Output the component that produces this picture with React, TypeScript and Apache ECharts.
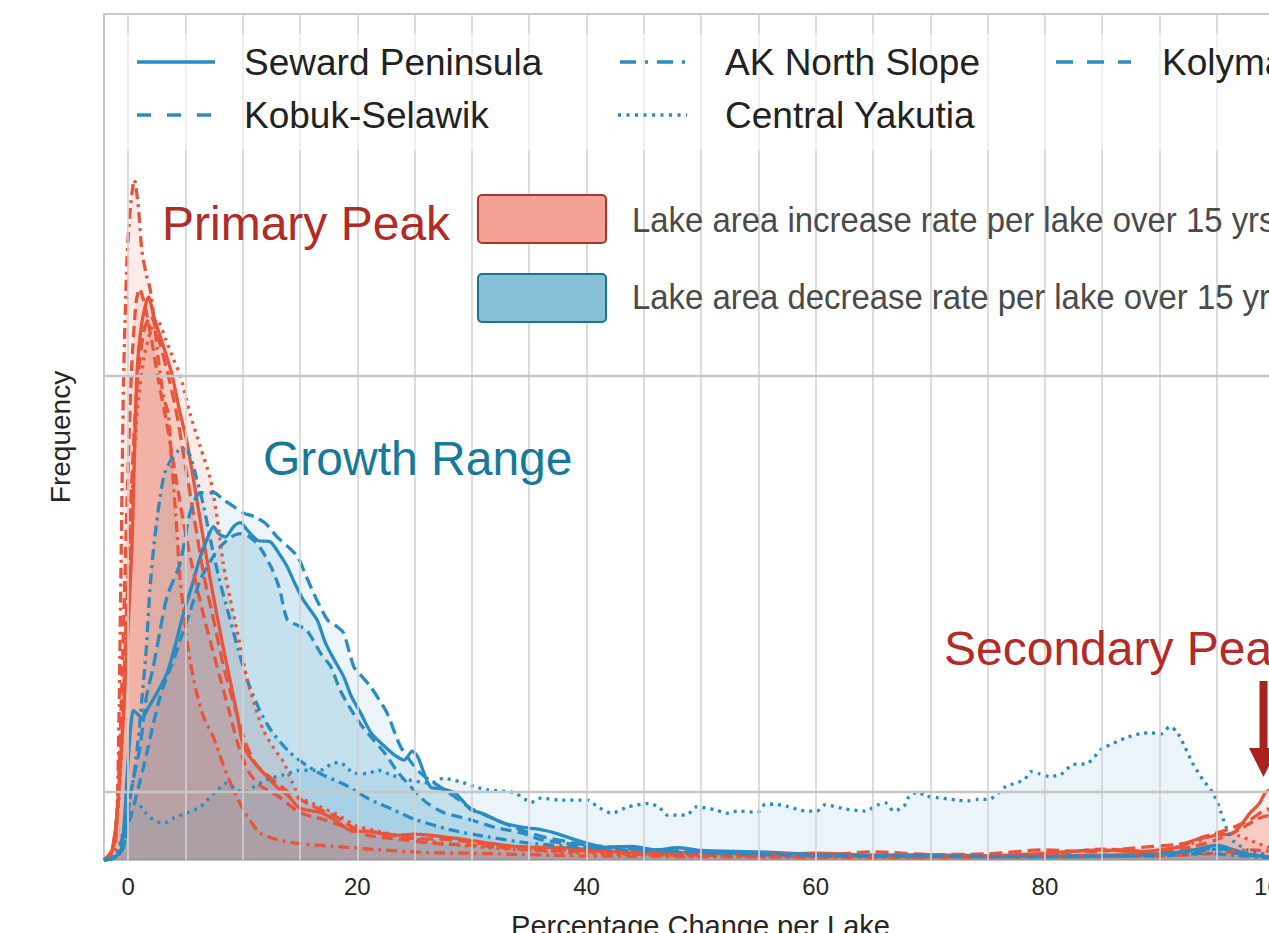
import React, { useEffect, useRef } from "react";
import * as echarts from "echarts";

const FONT = '"Liberation Sans", Arial, Helvetica, sans-serif';

// ---------- axes ----------
const xMin = -2.1;
const xMax = 102;
const yMax = 124.4;
const xGridValues = [0, 5, 10, 15, 20, 25, 30, 35, 40, 45, 50, 55, 60, 65, 70, 75, 80, 85, 90, 95, 100];
const yGridValues = [10, 71.2];
const xTickLabels = [0, 20, 40, 60, 80, 100];

const regionNames = ["Seward Peninsula", "Kobuk-Selawik", "AK North Slope", "Central Yakutia", "Kolyma"];

// ---------- lake area increase (red) densities: [percent change, frequency x1e-3] ----------
const sewardIncrease = [
  [-2.1, 0], [-1.5, 0.8], [-1.1, 4.4], [-0.85, 9.3], [-0.4, 21.6], [-0.1, 31], [0.34, 46], [0.5, 56], [0.78, 71.6],
  [1.2, 79], [1.79, 82.8], [2.3, 79.5], [3, 76], [3.8, 71.6], [4.5, 66], [5.1, 61.8], [6, 53], [7.2, 41],
  [8.3, 31.3], [9.5, 21.6], [10.1, 16.6], [11.3, 13.7], [12, 12.5], [13, 10.7], [14, 9.4], [15, 7.6], [16.8, 7],
  [18, 5.9], [19.7, 4.2], [21, 4.2], [23, 3.6], [25, 3.8], [28.5, 3.2], [31, 2.6], [34.3, 1.9], [38, 1.8], [42, 1.3],
  [46, 1], [50, 1.2], [55, 0.8], [60, 1], [65, 0.7], [70, 0.8], [75, 0.6], [80, 1.0], [85, 1.5], [88, 1.2], [92, 2],
  [93, 2.9], [95.2, 3.7], [96.4, 3.9], [97.9, 6.9], [98.7, 8.3], [99.2, 9.8], [99.6, 10.3], [100.4, 7], [101.2, 4], [102, 2]
];
const kobukIncrease = [
  [-2.1, 0], [-1.3, 1.5], [-0.9, 9], [-0.5, 28], [-0.1, 52], [0.3, 72], [0.7, 82], [1.0, 84], [1.4, 82], [2, 77],
  [2.6, 71], [3.4, 64], [4, 58], [4.8, 50], [5.5, 44], [6.3, 38], [7.2, 32], [8, 27], [8.8, 22], [9.6, 17],
  [10.5, 13], [11.5, 11], [13, 9.5], [15, 7], [17, 6], [19, 4.8], [21, 3.6], [24, 3], [27, 2.4], [30, 2.2],
  [35, 1.5], [40, 1.2], [45, 0.8], [50, 0.7], [60, 0.6], [70, 0.5], [80, 0.8], [85, 1.6], [90, 1.2], [93, 2],
  [95, 3], [97, 4.5], [98.5, 6], [99.4, 6.5], [100.4, 4.5], [101.4, 2], [102, 1]
];
const akIncrease = [
  [-2.1, 0], [-1.3, 0.5], [-1.0, 5], [-0.8, 20], [-0.6, 45], [-0.4, 70], [-0.1, 88], [0.2, 96], [0.55, 100],
  [0.9, 96], [1.2, 89.7], [1.6, 86], [1.92, 84], [2.3, 79], [2.65, 73.5], [3.1, 68], [3.5, 65.7], [3.8, 58.8],
  [4.2, 50], [4.55, 41.2], [5.3, 30.4], [6, 24.5], [6.6, 21], [7.46, 18], [8.3, 14], [9.2, 10.3], [10.2, 7],
  [11.5, 4], [13, 3], [15, 2.4], [18, 2], [22, 1.5], [26, 1.1], [30, 1], [40, 0.6], [50, 0.5], [60, 0.4],
  [70, 0.4], [80, 0.5], [90, 0.6], [95, 1], [98, 1.5], [100, 1.2], [102, 0.5]
];
const yakutiaIncrease = [
  [-2.1, 0], [-1.5, 1], [-1, 5], [-0.6, 15], [-0.2, 32], [0.3, 52], [0.8, 66], [1.4, 74], [2, 78], [2.5, 79.5],
  [3.3, 76.5], [4, 73.5], [4.55, 71.3], [5.4, 65.7], [6.3, 60.8], [7.2, 55.9], [7.8, 50], [8.3, 43.7], [8.9, 38.5],
  [9.5, 33.8], [10.4, 26.5], [11.1, 22.5], [11.8, 19.1], [12.7, 16.5], [13.6, 14.3], [14.3, 11.5], [15, 9.3],
  [16.5, 8], [18, 6.9], [20, 5], [23, 3.8], [26, 2.8], [30, 2], [35, 1.4], [40, 1], [50, 0.6], [60, 0.5],
  [70, 0.5], [80, 0.6], [88, 0.8], [93, 2.5], [95.5, 4], [97, 3.5], [98.5, 2.5], [100, 1.6], [102, 0.8]
];
const kolymaIncrease = [
  [-2.1, 0], [-1.4, 1.5], [-0.9, 8], [-0.5, 20], [-0.1, 38], [0.3, 55], [0.8, 70], [1.4, 78], [2, 80], [2.6, 77],
  [3.4, 72], [4.2, 66], [5, 58], [5.8, 50], [6.6, 42], [7.5, 35], [8.4, 28], [9.4, 22], [10.3, 17], [11.2, 14],
  [12.5, 12], [14, 10], [16, 8], [18, 6.5], [20, 4.5], [22, 4], [25, 3.2], [28, 3], [32, 2.2], [36, 1.8],
  [40, 1.3], [45, 1.1], [50, 0.9], [55, 1.0], [60, 0.7], [65, 1.2], [70, 0.8], [75, 0.9], [80, 1.5], [84, 1.2],
  [88, 1.8], [92, 2.4], [94, 3.5], [96, 4.5], [98, 6], [99.4, 7.5], [100.4, 5], [101.4, 2.5], [102, 1.5]
];

// ---------- lake area decrease (blue) densities ----------
const sewardDecrease = [
  [-2.1, 0], [-1.2, 0.5], [-0.7, 1], [-0.4, 4], [-0.1, 12], [0.2, 19], [0.47, 22], [0.8, 21.5], [1.2, 20.9],
  [1.8, 22.5], [2.5, 24.5], [3.4, 27.5], [4.1, 31.5], [4.84, 36.3], [5.6, 40.5], [6.3, 44.6], [6.9, 47.2],
  [7.45, 49], [7.9, 48], [8.5, 47.5], [9.2, 49], [9.8, 49.6], [10.4, 48.5], [11.3, 47], [12.4, 46.8], [13.2, 45],
  [13.9, 43.1], [14.6, 40.5], [15.3, 38.2], [16.5, 35.3], [17.2, 32], [18, 29.4], [18.8, 27], [19.5, 24],
  [20.3, 21.6], [21.2, 18.7], [22.2, 17], [23.2, 15.5], [24.1, 14.7], [24.8, 16], [25.3, 15.1], [26.4, 10.7],
  [27.3, 10.5], [28.5, 9.9], [29.3, 8.5], [29.9, 7.4], [31, 6.8], [32.8, 5.4], [34.5, 4.8], [35.5, 4.6],
  [37.2, 4], [39, 3], [41.6, 1.9], [44, 2], [46, 1.5], [48, 1.8], [50, 1.4], [55, 1.2], [60, 0.8], [65, 0.6],
  [70, 0.6], [75, 0.5], [80, 0.6], [85, 0.7], [90, 0.9], [93, 1.5], [95, 2.2], [96.5, 1.5], [98, 0.8],
  [100, 0.4], [102, 0.2]
];
const kobukDecrease = [
  [-2.1, 0], [-1, 0.5], [-0.4, 2], [0, 5], [0.5, 8], [1.1, 12], [1.6, 15.5], [2.2, 20], [2.8, 24], [3.4, 27],
  [4, 29.5], [4.55, 32.4], [5.4, 36.5], [6.3, 41.2], [7.2, 44], [8, 46], [9, 47.5], [9.8, 48], [10.6, 47.5],
  [11.5, 46], [12.5, 43], [13.2, 40], [13.9, 35.3], [14.8, 34.5], [15.6, 33.8], [16.8, 30.4], [17.7, 28.4],
  [18.5, 25], [19.5, 22], [20.5, 19.5], [21.5, 17.5], [22.5, 15.5], [23.5, 13], [24.7, 10.7], [26, 8.5],
  [27.5, 7], [29.9, 5.9], [32, 4.8], [34.3, 4], [36, 3], [38, 2.5], [40, 2], [43, 1.5], [46, 1.2], [50, 1],
  [55, 0.8], [60, 0.6], [70, 0.5], [80, 0.5], [88, 0.6], [93, 1.2], [95, 1.6], [97, 0.9], [100, 0.3], [102, 0.1]
];
const akDecrease = [
  [-2.1, 0], [-1.2, 0.3], [-0.7, 1.9], [-0.1, 6.9], [0.45, 11.8], [0.9, 18], [1.3, 25.4], [1.6, 31.3],
  [1.9, 39.7], [2.3, 47], [2.8, 53.4], [3.2, 56.9], [3.8, 59], [4.4, 60.2], [4.84, 60.5], [5.4, 59.5], [6, 56],
  [6.6, 52], [7.2, 47], [8, 41], [8.8, 36], [9.6, 31], [10.5, 26], [11.5, 22], [12.5, 19], [14, 16],
  [15.5, 14], [17, 12.5], [19, 11], [21, 9], [23, 7.5], [25, 6], [28, 4.5], [31, 3.5], [35, 2.5], [40, 1.8],
  [45, 1.3], [50, 1], [60, 0.6], [70, 0.5], [80, 0.5], [90, 0.6], [94, 1], [97, 0.6], [100, 0.3], [102, 0.1]
];
const yakutiaDecrease = [
  [-2.1, 0], [-1.2, 0.5], [-0.6, 3], [-0.2, 6.5], [0, 8.4], [0.76, 8.4], [1.5, 7], [2.3, 5.8], [3.1, 5.4],
  [4, 6.2], [5.1, 6.9], [6.3, 7.8], [7.5, 9.8], [8.6, 11.3], [9.3, 10.5], [10.1, 9.9], [11, 10.8], [12.1, 11.8],
  [13.5, 12.5], [15, 13.2], [16.8, 13.2], [18, 14.3], [18.5, 14.3], [19.7, 12.8], [20.8, 12.7], [21.8, 13.2],
  [23, 12.5], [24.4, 11.8], [26.4, 11.3], [27.5, 12], [29, 11.5], [30.2, 10.8], [31.4, 10.3], [33.7, 9.9],
  [35.2, 8.5], [36, 9.1], [37.8, 8.8], [40.1, 8.8], [41, 7.8], [42.2, 6.9], [43.6, 7.8], [45.4, 8.3], [46.3, 7.8],
  [47.1, 6.6], [48.7, 6.6], [49.6, 7.8], [51.2, 7.4], [52.2, 6.9], [53.3, 7.2], [54.9, 7.0], [55.6, 8.2],
  [56.4, 8.2], [57.5, 7.9], [59.1, 7.2], [60.1, 7.2], [60.8, 8.1], [62.6, 7.5], [64.3, 7.2], [65.4, 8.1],
  [66.1, 8.4], [66.8, 7.2], [67.7, 7.9], [68.1, 9.2], [68.9, 10.0], [69.6, 9.4], [70.5, 9.2], [72.4, 8.8],
  [73.2, 8.7], [74.2, 8.9], [75.1, 8.9], [75.9, 9.8], [76.6, 10.8], [78.2, 11.8], [78.8, 13.0], [79.5, 12.7],
  [80.4, 12.3], [81.4, 12.6], [82.4, 14.0], [83.7, 14.2], [85.0, 16.4], [85.9, 17.1], [87.1, 18.0], [88.4, 18.6],
  [89.3, 18.7], [90.1, 18.5], [90.9, 19.6], [91.5, 18.9], [92.2, 16.7], [92.9, 14.2], [93.8, 11.8], [94.7, 9.8],
  [95.2, 7.8], [95.8, 4.9], [96.4, 2.9], [97.6, 1.5], [98.8, 1.0], [100, 0.6], [102, 0.3]
];
const kolymaDecrease = [
  [-2.1, 0], [-1.2, 0.3], [-0.4, 1.9], [0.17, 9.3], [0.6, 13], [1.05, 16.6], [1.6, 24], [2.2, 28.4],
  [2.8, 33.8], [3.4, 38.7], [4.55, 43.7], [5.4, 51], [6.3, 54], [7.5, 54], [8.3, 53], [9.2, 52], [10.1, 51],
  [11, 50.5], [12, 49.5], [13, 47.5], [14, 46], [14.8, 44.6], [15.6, 41.5], [16.4, 38.5], [17.4, 35.3],
  [18.1, 34.5], [18.8, 33.4], [19.7, 28.4], [20.4, 27], [21.2, 25.4], [22.6, 21.6], [23.8, 16.6], [25.5, 12.8],
  [27, 11], [28.5, 9.3], [30, 7.5], [32, 6], [34, 4.6], [36, 3.5], [38, 2.8], [40, 2.2], [43, 1.8], [46, 1.5],
  [50, 1.1], [55, 0.9], [60, 0.7], [70, 0.6], [80, 0.5], [88, 0.7], [93, 1.4], [95, 1.8], [97, 1], [100, 0.4],
  [102, 0.2]
];

const increaseSets = [sewardIncrease, kobukIncrease, akIncrease, yakutiaIncrease, kolymaIncrease];
const decreaseSets = [sewardDecrease, kobukDecrease, akDecrease, yakutiaDecrease, kolymaDecrease];

const RED = "#e8553b";
const BLUE = "#2b8cc2";
const RED_FILL = "rgba(232,85,59,0.16)";
const BLUE_FILL = "rgba(43,140,194,0.14)";
const plotDashes: any[] = ["solid", [11, 6], [11, 5, 3, 5], [3, 5], [13, 6]];
const legendDashes: any[] = [null, [14, 16], [16, 9, 3, 9], [3, 5.5], [17, 14]];

function buildOption() {
  const series: any[] = [];
  series.push({
    type: "line",
    name: "grid",
    data: [[xMin, 0]],
    symbol: "none",
    silent: true,
    z: 1,
    lineStyle: { opacity: 0 },
    markLine: {
      silent: true,
      symbol: ["none", "none"],
      label: { show: false },
      emphasis: { disabled: true },
      data: [
        ...xGridValues.map((v) => ({ xAxis: v, lineStyle: { color: "#d3d3d3", width: 1.6, type: "solid" } })),
        ...yGridValues.map((v) => ({ yAxis: v, lineStyle: { color: "#c6c6c6", width: 2.4, type: "solid" } })),
      ],
    },
  });
  const fillSeries = (data: number[][], name: string, color: string) => ({
    type: "line",
    name,
    data,
    symbol: "none",
    smooth: 0.25,
    silent: true,
    z: 2,
    lineStyle: { width: 0, opacity: 0 },
    areaStyle: { color },
    emphasis: { disabled: true },
  });
  const lineSeries = (data: number[][], name: string, color: string, dash: any) => ({
    type: "line",
    name,
    data,
    symbol: "none",
    smooth: 0.25,
    silent: true,
    z: 3,
    lineStyle: { width: 3.3, color, type: dash, cap: "butt" },
    emphasis: { disabled: true },
  });
  // fills (all below the lines), interleaved per region: increase then decrease
  regionNames.forEach((n, i) => {
    series.push(fillSeries(increaseSets[i], n + " increase", RED_FILL));
    series.push(fillSeries(decreaseSets[i], n + " decrease", BLUE_FILL));
  });
  regionNames.forEach((n, i) => {
    series.push(lineSeries(increaseSets[i], n + " increase", RED, plotDashes[i]));
    series.push(lineSeries(decreaseSets[i], n + " decrease", BLUE, plotDashes[i]));
  });

  const text = (t: string, x: number, y: number, size: number, color: string, extra: any = {}) => ({
    type: "text",
    x,
    y,
    z: 60,
    silent: true,
    ...extra,
    style: {
      text: t,
      fill: color,
      fontSize: size,
      fontFamily: FONT,
      font: `${size}px ${FONT}`,
      textAlign: "left",
      align: "left",
      textVerticalAlign: "middle",
      verticalAlign: "middle",
    },
  });
  const legendLine = (x1: number, x2: number, y: number, dash: any) => ({
    type: "line",
    z: 60,
    silent: true,
    shape: { x1, y1: y, x2, y2: y },
    style: { stroke: BLUE, lineWidth: 3.4, lineDash: dash || undefined },
  });

  const graphic: any[] = [
    { type: "rect", z: 55, silent: true, shape: { x: 112, y: 34, width: 1200, height: 116 }, style: { fill: "rgba(255,255,255,0.55)" } },
    legendLine(137, 215, 62, legendDashes[0]),
    text(regionNames[0], 244, 62, 37, "#222222"),
    legendLine(137, 215, 115, legendDashes[1]),
    text(regionNames[1], 244, 115, 37, "#222222"),
    legendLine(620, 686, 62, legendDashes[2]),
    text(regionNames[2], 725, 62, 37, "#222222"),
    legendLine(618, 687, 115, legendDashes[3]),
    text(regionNames[3], 725, 115, 37, "#222222"),
    legendLine(1056, 1131, 62, legendDashes[4]),
    text(regionNames[4], 1162, 62, 37, "#222222"),
    { type: "rect", z: 60, silent: true, shape: { x: 478, y: 195, width: 128, height: 48, r: 4 }, style: { fill: "#f4a196", stroke: "#b3312c", lineWidth: 2 } },
    { type: "rect", z: 60, silent: true, shape: { x: 478, y: 274, width: 128, height: 48, r: 4 }, style: { fill: "#86bfd6", stroke: "#17739a", lineWidth: 2 } },
    text("Lake area increase rate per lake over 15 yrs", 632, 220, 35, "#4a4a4a", { scaleX: 0.94 }),
    text("Lake area decrease rate per lake over 15 yrs", 632, 297, 35, "#4a4a4a", { scaleX: 0.94 }),
    text("Primary Peak", 162, 223, 48, "#b22b27"),
    text("Growth Range", 263, 458, 48, "#16789a"),
    text("Secondary Peak", 944, 648, 48, "#b22b27"),
    { type: "line", z: 60, silent: true, shape: { x1: 1263.5, y1: 681, x2: 1263.5, y2: 752 }, style: { stroke: "#a8221e", lineWidth: 8 } },
    { type: "polygon", z: 60, silent: true, shape: { points: [[1249, 748], [1278, 748], [1263.5, 777]] }, style: { fill: "#a8221e" } },
  ];

  return {
    animation: false,
    backgroundColor: "#ffffff",
    grid: {
      left: 104, top: 14, width: 1193, height: 846, show: true,
      borderColor: "#c9c9c9", borderWidth: 2, backgroundColor: "rgba(0,0,0,0)",
      containLabel: false, outerBoundsMode: "none",
    },
    xAxis: {
      type: "value",
      min: xMin,
      max: xMax,
      name: "Percentage Change per Lake",
      nameLocation: "middle",
      nameGap: 51,
      nameTextStyle: { fontSize: 29, color: "#262626", fontFamily: FONT },
      axisLine: { show: false },
      axisTick: { show: false },
      splitLine: { show: false },
      axisLabel: { customValues: xTickLabels, fontSize: 24, color: "#262626", margin: 14, fontFamily: FONT },
    },
    yAxis: {
      type: "value",
      min: 0,
      max: yMax,
      name: "Frequency",
      nameLocation: "middle",
      nameGap: 30,
      nameTextStyle: { fontSize: 28, color: "#262626", fontFamily: FONT },
      axisLine: { show: false },
      axisTick: { show: false },
      axisLabel: { show: false },
      splitLine: { show: false },
    },
    series,
    graphic,
  };
}

export default function App() {
  const ref = useRef<HTMLDivElement>(null);
  useEffect(() => {
    if (!ref.current) return;
    const chart = echarts.init(ref.current, null, { renderer: "svg" });
    chart.setOption(buildOption() as any);
    return () => chart.dispose();
  }, []);
  return <div ref={ref} style={{ position: "fixed", left: 0, top: 0, width: 1269, height: 933 }} />;
}
